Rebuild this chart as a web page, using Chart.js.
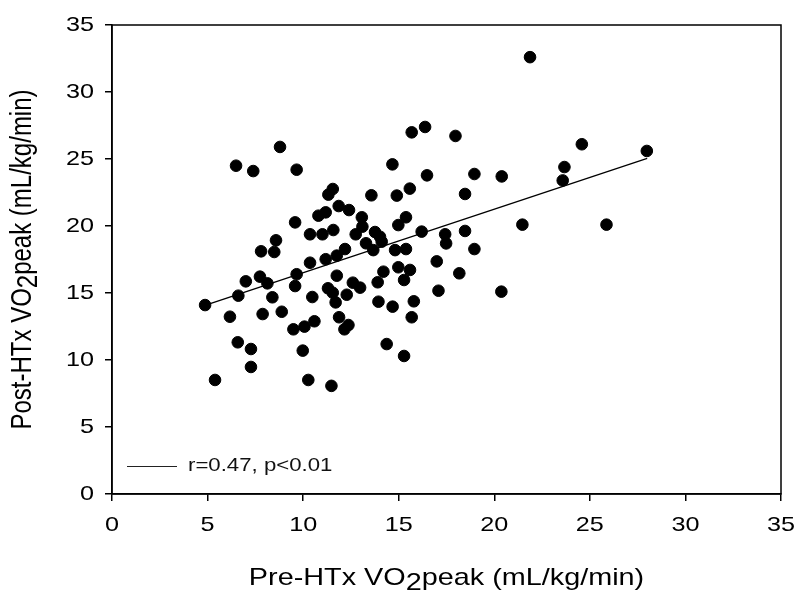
<!DOCTYPE html>
<html>
<head>
<meta charset="utf-8">
<script src="https://cdn.jsdelivr.net/npm/chart.js@4.4.1/dist/chart.umd.min.js"></script>
<style>
  html, body { margin: 0; padding: 0; background: #fff; }
  #wrap { width: 795px; height: 592px; position: relative; }
</style>
</head>
<body>
<div id="wrap"><canvas id="c" width="795" height="592"></canvas></div>
<script>
// ---- Data ----
const preHTx = [21.87, 24.58, 27.98, 23.67, 23.58, 20.39, 21.47, 25.87, 15.68, 16.38,
  17.97, 14.67, 16.48, 18.96, 13.57, 14.9, 15.58, 18.47, 11.86, 12.4,
  13.07, 15.38, 14.98, 16.2, 17.43, 17.48, 18.47, 18.96, 14.81, 15.38,
  12.19, 11.76, 16.99, 11.76, 14.98, 15.59, 14.2, 15.28, 13.9, 18.17,
  12.6, 12.98, 17.08, 20.37, 11.58, 13.1, 12.75, 13.76, 14.02, 13.29,
  13.67, 14.11, 8.79, 6.49, 7.39, 9.66, 11.55, 11.32, 10.8, 11.18,
  9.58, 10.36, 11.01, 8.58, 7.8, 8.49, 11.18, 10.36, 9.66, 7.74,
  8.13, 7.0, 9.58, 11.3, 11.55, 6.61, 8.39, 10.48, 12.28, 11.7,
  13.94, 14.68, 15.79, 15.68, 11.88, 12.37, 12.16, 14.37, 15.28, 11.48,
  4.87, 6.17, 7.88, 8.88, 9.49, 10.07, 10.59, 6.58, 7.27, 7.27,
  9.98, 5.39, 10.27];
const postHTx = [32.6, 26.1, 25.6, 24.4, 23.4, 23.7, 20.1, 20.1, 26.99, 27.39,
  26.72, 24.6, 23.78, 23.88, 22.29, 22.27, 22.79, 22.39, 21.49, 21.19,
  20.65, 20.65, 20.07, 19.58, 19.38, 18.7, 19.63, 18.28, 18.2, 18.28,
  18.28, 17.79, 17.36, 16.29, 16.92, 16.72, 16.59, 15.97, 15.8, 16.47,
  15.77, 15.4, 15.17, 15.1, 19.7, 19.95, 19.38, 19.55, 19.2, 18.71,
  18.2, 18.83, 25.9, 24.5, 24.1, 24.2, 22.76, 22.34, 20.77, 21.02,
  20.27, 19.38, 19.38, 18.93, 18.11, 18.06, 17.52, 17.26, 16.4, 16.22,
  15.72, 15.87, 15.52, 15.35, 15.02, 14.8, 14.68, 14.7, 14.87, 14.3,
  14.35, 13.98, 14.38, 13.19, 13.19, 12.61, 12.29, 11.19, 10.3, 8.07,
  14.1, 13.23, 13.43, 13.6, 12.29, 12.49, 12.89, 11.32, 10.82, 9.48,
  10.7, 8.51, 8.51];
const fitX = [4.9, 28.0];
const fitY = [14.1, 25.05];
const fitLabel = 'r=0.47, p<0.01';
const xTicks = [0, 5, 10, 15, 20, 25, 30, 35];
const yTicks = [0, 5, 10, 15, 20, 25, 30, 35];
const xTitleParts = ['Pre-HTx VO', '2', 'peak (mL/kg/min)'];
const yTitleParts = ['Post-HTx VO', '2', 'peak (mL/kg/min)'];

const FONT = '"Liberation Sans", Arial, Helvetica, sans-serif';
const HS = 1.2; // horizontal stretch of the reference's lettering

const points = preHTx.map((x, i) => ({ x: x, y: postHTx[i] }));
const fitLine = fitX.map((x, i) => ({ x: x, y: fitY[i] }));

function drawSubTitle(ctx, parts, size) {
  ctx.font = size + 'px ' + FONT;
  const w0 = ctx.measureText(parts[0]).width;
  const w1 = ctx.measureText(parts[1]).width;
  const w2 = ctx.measureText(parts[2]).width;
  const total = w0 + w1 + w2;
  let x = -total / 2;
  ctx.textBaseline = 'alphabetic';
  ctx.textAlign = 'left';
  ctx.fillText(parts[0], x, 0); x += w0;
  ctx.fillText(parts[1], x, size * 0.22); x += w1;
  ctx.fillText(parts[2], x, 0);
}

const framePlugin = {
  id: 'frame',
  afterDraw(chart) {
    const { ctx, chartArea: a, scales } = chart;
    ctx.save();
    ctx.strokeStyle = '#000';
    ctx.lineWidth = 1.5;
    ctx.strokeRect(a.left, a.top, a.right - a.left, a.bottom - a.top);

    // tick labels (stretched lettering, positioned by the library scales)
    ctx.fillStyle = '#000';
    ctx.font = '21px ' + FONT;
    ctx.textBaseline = 'middle';
    scales.x.ticks.forEach(t => {
      const px = scales.x.getPixelForValue(t.value);
      ctx.save();
      ctx.translate(px, 525);
      ctx.scale(HS, 1);
      ctx.textAlign = 'center';
      ctx.fillText(String(t.value), 0, 0);
      ctx.restore();
    });
    scales.y.ticks.forEach(t => {
      const py = scales.y.getPixelForValue(t.value);
      ctx.save();
      ctx.translate(94, py);
      ctx.scale(HS, 1);
      ctx.textAlign = 'right';
      ctx.fillText(String(t.value), 0, 0);
      ctx.restore();
    });

    // legend inside plot
    ctx.strokeStyle = '#222';
    ctx.lineWidth = 1;
    ctx.beginPath();
    ctx.moveTo(a.left + 15, 466.5);
    ctx.lineTo(a.left + 65, 466.5);
    ctx.stroke();
    ctx.fillStyle = '#111';
    ctx.save();
    ctx.translate(a.left + 76, 466);
    ctx.scale(HS, 1);
    ctx.font = '18.5px ' + FONT;
    ctx.textBaseline = 'middle';
    ctx.textAlign = 'left';
    ctx.fillText(fitLabel, 0, 0);
    ctx.restore();

    // axis titles
    ctx.fillStyle = '#000';
    ctx.save();
    ctx.translate((a.left + a.right) / 2, 585);
    ctx.scale(HS, 1);
    drawSubTitle(ctx, xTitleParts, 24);
    ctx.restore();
    ctx.save();
    ctx.translate(31, (a.top + a.bottom) / 2);
    ctx.rotate(-Math.PI / 2);
    ctx.scale(1, HS);
    drawSubTitle(ctx, yTitleParts, 24);
    ctx.restore();
    ctx.restore();
  }
};

new Chart(document.getElementById('c'), {
  type: 'scatter',
  data: {
    datasets: [
      {
        label: 'VO2peak',
        data: points,
        backgroundColor: '#000',
        borderColor: '#000',
        pointRadius: 5.8,
        pointBorderWidth: 1,
        pointHoverRadius: 5.8
      },
      {
        label: fitLabel,
        type: 'line',
        data: fitLine,
        borderColor: '#000',
        borderWidth: 1.3,
        pointRadius: 0,
        fill: false
      }
    ]
  },
  options: {
    responsive: false,
    animation: false,
    events: [],
    layout: { padding: { top: 25, right: 14, left: 0, bottom: 0 } },
    plugins: { legend: { display: false }, tooltip: { enabled: false } },
    scales: {
      x: {
        type: 'linear',
        min: 0, max: 35,
        afterBuildTicks(s) { s.ticks = xTicks.map(v => ({ value: v })); },
        afterFit(s) { s.height = 98; },
        ticks: { display: false },
        grid: { drawOnChartArea: false, tickLength: 7, color: '#000', lineWidth: 1.5 },
        border: { display: true, color: '#000', width: 1.5 }
      },
      y: {
        type: 'linear',
        min: 0, max: 35,
        afterBuildTicks(s) { s.ticks = yTicks.map(v => ({ value: v })); },
        afterFit(s) { s.width = 112; },
        ticks: { display: false },
        grid: { drawOnChartArea: false, tickLength: 7, color: '#000', lineWidth: 1.5 },
        border: { display: true, color: '#000', width: 1.5 }
      }
    }
  },
  plugins: [framePlugin]
});
</script>
</body>
</html>
